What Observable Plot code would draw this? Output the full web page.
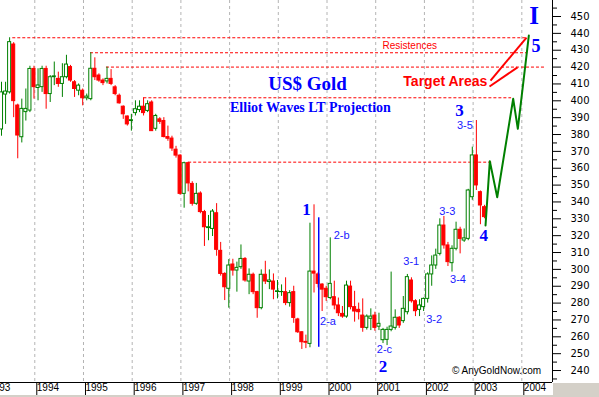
<!DOCTYPE html>
<html>
<head>
<meta charset="utf-8">
<script src="https://cdn.jsdelivr.net/npm/d3@7"></script>
<script src="https://cdn.jsdelivr.net/npm/@observablehq/plot@0.6"></script>
<style>
  html, body { margin: 0; padding: 0; background: #fff; }
  #chart { position: relative; width: 599px; height: 397px; overflow: hidden; background: #fff; }
  #corner { position: absolute; left: 553px; top: 383px; width: 46px; height: 14px; background: #d4d0c8; }
  #strip { position: absolute; left: 0; top: 395px; width: 599px; height: 2px; background: #d4d0c8; }
</style>
</head>
<body>
<div id="chart"></div>
<script>
// ---- monthly candles (Apr 1993 .. Mar 2003) ----
const months = [
  "1993-04","1993-05","1993-06","1993-07","1993-08","1993-09","1993-10","1993-11","1993-12",
  "1994-01","1994-02","1994-03","1994-04","1994-05","1994-06","1994-07","1994-08","1994-09","1994-10","1994-11","1994-12",
  "1995-01","1995-02","1995-03","1995-04","1995-05","1995-06","1995-07","1995-08","1995-09","1995-10","1995-11","1995-12",
  "1996-01","1996-02","1996-03","1996-04","1996-05","1996-06","1996-07","1996-08","1996-09","1996-10","1996-11","1996-12",
  "1997-01","1997-02","1997-03","1997-04","1997-05","1997-06","1997-07","1997-08","1997-09","1997-10","1997-11","1997-12",
  "1998-01","1998-02","1998-03","1998-04","1998-05","1998-06","1998-07","1998-08","1998-09","1998-10","1998-11","1998-12",
  "1999-01","1999-02","1999-03","1999-04","1999-05","1999-06","1999-07","1999-08","1999-09","1999-10","1999-11","1999-12",
  "2000-01","2000-02","2000-03","2000-04","2000-05","2000-06","2000-07","2000-08","2000-09","2000-10","2000-11","2000-12",
  "2001-01","2001-02","2001-03","2001-04","2001-05","2001-06","2001-07","2001-08","2001-09","2001-10","2001-11","2001-12",
  "2002-01","2002-02","2002-03","2002-04","2002-05","2002-06","2002-07","2002-08","2002-09","2002-10","2002-11","2002-12",
  "2003-01","2003-02","2003-03"
];
const opens = [
  383,403.7,405,433.4,397.2,378.4,393.3,394.2,418.9,
  407.6,408.1,418.9,404,414,413,410,414,420,411,406,406,
  401.5,401,419,415,412,411.5,413,408,403,396.5,390.7,388,
  392.7,394.5,396.5,394,399,383.4,389,388,378.5,377.6,371,367.5,
  344.8,363,350.7,338.9,345,334,324.5,324,333.3,311,297.3,288.5,
  302.9,299.3,301.3,306.2,292.8,296.8,286.5,277,296.8,292.5,292.8,286.6,
  286.5,286.5,280,286.5,270.3,262.7,257,255.8,298.7,297,291,288.5,
  283,283.5,278.6,273.6,272,289.8,277.6,276,272.6,265.3,270.7,272.6,
  266,258,258.2,264.1,265.3,271.3,269.3,274.6,293.4,281.1,276,277.6,
  282.5,297,302.3,309.2,326,314.2,303.7,312.2,323.5,317.1,318.1,342.8,
  367.6,345.8,336.9
];
const highs = [
  411,411,437.4,434.5,398,401,407,420.5,420.5,
  419,420.5,420.5,415,423,417,422,427,421,412,410,407,
  404,428.5,425.5,416,413,420,418.5,409,404,397,391,392,
  400,400,401.8,400,400,392,390,390,385,379,373,368,
  363.6,363.6,352,351,346,335,332,335.5,339,316,298,305.8,
  306,304.3,314.5,307,300.3,297.8,287,299.7,304.8,299.7,297.3,293.4,
  290.8,295,287.4,290,271,263,261,327.4,338.3,298,291.5,290,
  318.7,293,283,278,293,293,287,280,282.5,273,276.6,274.6,
  274,265,265.7,298.4,276,272,283.9,297,295,282,282,283,
  298,308,312,330,331.4,316,314,328,325,324,347.5,372.5,
  388.3,346.5,338
];
const lows = [
  379,386,404,390,365.6,375,388,393,401,
  400,405,395,399,409,408,402,413,411,402,403,397,
  400,400,412,411,409,410,409,403,398,389,385,382,
  391,393,391,393,382,382,386,378,376,370,366,344,
  336.3,346,337.5,338,333,313.6,317,319.5,307.8,296,281.5,277,
  296,286.5,300,292.4,285,285,271,276,291,288,282,282.5,
  284,278.5,277.6,268,262,252.5,253,253.5,286,289,275,281,
  282,276,272,271,271,276,268.7,270,262.7,264,263.7,263.3,
  263.7,256,254.8,263,264,265,268,273,280,272,272,275,
  280,290,300,308,312,301.7,298.4,311,309.2,316,317,341,
  346.8,326.5,330
];
const closes = [
  405,405.5,434.8,399.8,379.4,395.2,395.2,418.9,408.1,
  409.1,418.9,404,414,414.5,410,414,421.5,412,407,409,401.5,
  402.5,419,414,412,410.5,413,410,404,398.5,392,386,388.5,
  395,396.5,392.7,398,382,391,387.5,378.5,377.5,371.7,367.5,344.8,
  363,351,338.9,344.8,334,325,325,334.3,311.6,297.3,289.4,302.3,
  299.3,300.9,306.2,293.4,296.8,286.5,277,296.8,292.8,293.4,288,287,
  286.6,280,285.9,271.2,262.7,256.8,256.5,298.7,297.5,291.4,288,283.5,
  291.4,278.6,274,272,290.4,277.6,275,274.6,265.3,272,272,265.3,
  267.7,264.1,264.1,266.1,271.3,266.7,276.6,295.4,281.1,275.2,278.6,282.5,
  297,302.3,308.2,326,314.2,304.3,312.2,323.5,318.1,318.4,346.8,367.6,
  349.8,337.9,331
];

// ---- resistance levels (dashed) ----
const resLevels = [437.4, 428.5, 420.0, 401.8, 363.6];
const resStart  = [1993.548, 1995.144, 1995.472, 1996.24, 1997.16];
const resEnd    = [2004.10, 2004.12, 2004.50, 2003.79, 2003.40];

// ---- projected wave path ----
const projYears  = [2003.255, 2003.343, 2003.495, 2003.823, 2003.918, 2004.144];
const projPrices = [326, 364.2, 342.8, 401.2, 383.4, 438.7];

// ---- target-area pointers ----
const targetFromYear  = [2003.357, 2003.337];
const targetFromPrice = [412.0, 408.5];
const targetToYear    = [2004.097, 2003.912];
const targetToPrice   = [437.5, 419.8];

// ---- axis ticks ----
const yearTicks = [1993,1994,1995,1996,1997,1998,1999,2000,2001,2002,2003,2004];
const gridYears = [1994,1995,1996,1997,1998,1999,2000,2001,2002,2003,2004];
const priceTicks = [240,250,260,270,280,290,300,310,320,330,340,350,360,370,380,390,400,410,420,430,440,450];
const minorTicks = [235,245,255,265,275,285,295,305,315,325,335,345,355,365,375,385,395,405,415,425,435,445,455];

// ---- wave labels ----
const waveLabels = ["1","2","3","4"];
const waveYears  = [1999.58, 2001.15, 2002.72, 2003.22];
const wavePrices = [335.5, 242.4, 394.5, 320.1];
const subLabels  = ["2-a","2-b","2-c","3-1","3-2","3-3","3-4","3-5"];
const subYears   = [2000.02, 2000.30, 2001.18, 2001.73, 2002.20, 2002.47, 2002.69, 2002.83];
const subPrices  = [269.1, 320.4, 252.2, 304.95, 270.3, 334.6, 294.0, 385.6];

const xDomain = [1993.296, 2004.630];
const yDomain = [232.9, 459.5];

const rows = months.map((m, i) => ({
  t: +m.slice(0, 4) + (+m.slice(5) - 1) / 12,
  o: opens[i], h: highs[i], l: lows[i], c: closes[i]
}));
const up = rows.filter(d => d.c >= d.o);
const down = rows.filter(d => d.c < d.o);
const slot = 1 / 12;
const cx = d => d.t + 0.8 * slot;
const GREEN = "#008000", RED = "#ff0000", BLUE = "#0000ff";
const idx = a => a.map((_, i) => i);

const serif = "'Liberation Serif', 'Times New Roman', serif";

const chart = Plot.plot({
  width: 599,
  height: 397,
  marginTop: 0,
  marginLeft: 0,
  marginRight: 47,
  marginBottom: 15,
  style: { fontFamily: "Arial, 'Liberation Sans', sans-serif", fontSize: "10px", background: "white", color: "black" },
  x: { type: "linear", domain: xDomain },
  y: { type: "linear", domain: yDomain },
  marks: [
    Plot.ruleX(gridYears, { stroke: "#b4b4b4", strokeDasharray: "3,3" }),
    Plot.ruleY(idx(resLevels), { y: i => resLevels[i], x1: i => resStart[i], x2: i => resEnd[i], stroke: RED, strokeDasharray: "3,2" }),
    // candles
    Plot.ruleX(up, { x: cx, y1: "l", y2: "h", stroke: GREEN, clip: true }),
    Plot.ruleX(down, { x: cx, y1: "l", y2: "h", stroke: RED, clip: true }),
    Plot.rect(up, { x1: d => d.t + 0.3 * slot, x2: d => d.t + 1.3 * slot, y1: "o", y2: "c", insetLeft: 0.5, insetRight: 0.5, fill: "white", stroke: GREEN, strokeWidth: 1, clip: true }),
    Plot.rect(down, { x1: d => d.t + 0.3 * slot, x2: d => d.t + 1.3 * slot, y1: "o", y2: "c", insetLeft: 0.5, insetRight: 0.5, fill: RED, stroke: RED, strokeWidth: 1, clip: true }),
    // wave-1 measuring line
    Plot.ruleX([1999.83], { y1: 253.8, y2: 330.6, stroke: BLUE, strokeWidth: 1.5 }),
    // projection
    Plot.line(idx(projYears), { x: i => projYears[i], y: i => projPrices[i], stroke: GREEN, strokeWidth: 2 }),
    Plot.link(idx(targetFromYear), { x1: i => targetFromYear[i], y1: i => targetFromPrice[i], x2: i => targetToYear[i], y2: i => targetToPrice[i], stroke: RED, strokeWidth: 2 }),
    // axes
    Plot.ruleY([yDomain[0]], { stroke: "black" }),
    Plot.ruleX([xDomain[1]], { stroke: "black" }),
    Plot.axisX({ ticks: yearTicks, tickFormat: d => String(d), tickSize: 15, tickPadding: -14, textAnchor: "start", dx: 2, fontSize: 10, label: null }),
    Plot.axisY({ anchor: "right", ticks: minorTicks, tickSize: 4, tickFormat: () => "", label: null }),
    Plot.axisY({ anchor: "right", ticks: priceTicks, tickSize: 8, tickPadding: 10, fontSize: 10, fontFamily: "'DejaVu Sans', sans-serif", label: null }),
    // titles
    Plot.text(["US$ Gold"], { x: () => 1999.60, y: () => 410.3, text: d => d, fill: BLUE, fontFamily: serif, fontWeight: "bold", fontSize: 19 }),
    Plot.text(["Elliot Waves LT Projection"], { x: () => 1999.66, y: () => 396.0, text: d => d, fill: BLUE, fontFamily: serif, fontWeight: "bold", fontSize: 14 }),
    Plot.text(["Resistences"], { x: () => 2001.70, y: () => 432.8, text: d => d, fill: RED, fontSize: 10 }),
    Plot.text(["Target Areas"], { x: () => 2002.43, y: () => 411.5, text: d => d, fill: RED, fontWeight: "bold", fontSize: 14 }),
    Plot.text(["I"], { x: () => 2004.25, y: () => 450.3, text: d => d, fill: BLUE, fontFamily: serif, fontWeight: "bold", fontSize: 25 }),
    Plot.text(["5"], { x: () => 2004.29, y: () => 432.2, text: d => d, fill: BLUE, fontFamily: serif, fontWeight: "bold", fontSize: 18 }),
    Plot.text(idx(waveLabels), { x: i => waveYears[i], y: i => wavePrices[i], text: i => waveLabels[i], fill: BLUE, fontFamily: serif, fontWeight: "bold", fontSize: 17 }),
    Plot.text(idx(subLabels), { x: i => subYears[i], y: i => subPrices[i], text: i => subLabels[i], fill: "#1a1aff", fontSize: 11 }),
    Plot.text(["© AnyGoldNow.com"], { x: () => 2003.48, y: () => 240.0, text: d => d, fill: "black", fontSize: 10 })
  ]
});

const host = document.getElementById("chart");
host.appendChild(chart);
const corner = document.createElement("div"); corner.id = "corner"; host.appendChild(corner);
const strip = document.createElement("div"); strip.id = "strip"; host.appendChild(strip);
</script>
</body>
</html>
